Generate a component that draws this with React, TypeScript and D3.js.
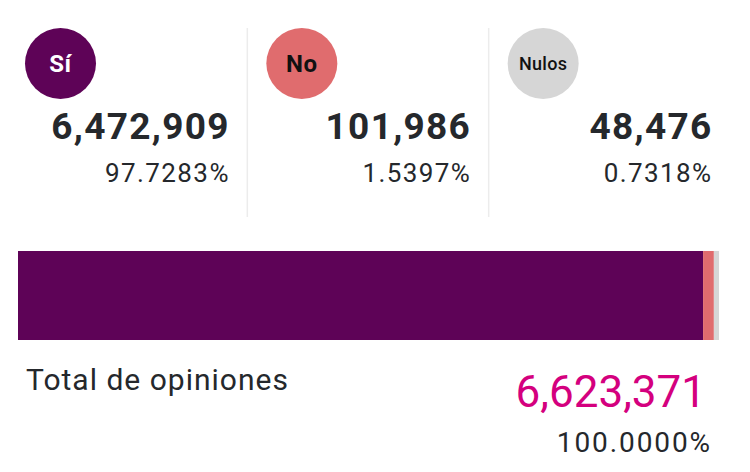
import React from "react";
import * as d3 from "d3";

const categories = ["Sí", "No", "Nulos"];
const votes = [6472909, 101986, 48476];
const percents = ["97.7283%", "1.5397%", "0.7318%"];
const colors = ["#5e0357", "#e06c6e", "#d6d6d6"];
const labelColors = ["#ffffff", "#111111", "#111111"];
const totalLabel = "Total de opiniones";
const totalValue = 6623371;
const totalPercent = "100.0000%";

const W = 750;
const H = 472;
const FONT = "Roboto, 'Noto Sans', sans-serif";
const TEXT = "#25282c";

export default function App() {
  const fmt = d3.format(",");
  const colX = d3.scaleBand<number>().domain([0, 1, 2]).range([6, 730]);
  const x = d3.scaleLinear().domain([0, totalValue]).range([18, 719]);
  const stack = d3.stack<Record<string, number>>().keys(categories)([
    Object.fromEntries(categories.map((c, i) => [c, votes[i]])),
  ]);

  return (
    <div style={{ position: "absolute", left: 0, top: 0 }}>
      <svg width={W} height={H} style={{ display: "block", fontFamily: FONT }}>
        <rect width={W} height={H} fill="#ffffff" />
        {categories.map((c, i) => {
          const x0 = colX(i)!;
          const bw = colX.bandwidth();
          const right = x0 + bw - 17.5;
          return (
            <g key={c}>
              {i > 0 && (
                <line x1={x0} x2={x0} y1={28} y2={217} stroke="#ececec" strokeWidth={1.5} />
              )}
              <circle cx={x0 + 54.5} cy={63.5} r={35.5} fill={colors[i]} />
              <text
                x={x0 + 54.5}
                y={63.5}
                dy="0.36em"
                textAnchor="middle"
                fill={labelColors[i]}
                fontSize={i === 2 ? 18 : 24}
                fontWeight={i === 2 ? 500 : 700}
                letterSpacing={i === 2 ? 0.3 : 0.5}
              >
                {c}
              </text>
              <text
                x={right}
                y={139}
                textAnchor="end"
                fill={TEXT}
                fontSize={37}
                fontWeight={700}
                letterSpacing={1.3}
              >
                {fmt(votes[i])}
              </text>
              <text
                x={right}
                y={182}
                textAnchor="end"
                fill={TEXT}
                fontSize={26}
                fontWeight={400}
                letterSpacing={1.4}
              >
                {percents[i]}
              </text>
            </g>
          );
        })}
        {stack.map((s, i) => (
          <rect
            key={s.key}
            x={x(s[0][0])}
            y={251}
            width={x(s[0][1]) - x(s[0][0])}
            height={89}
            fill={colors[i]}
          />
        ))}
        <text x={26} y={390} fill={TEXT} fontSize={30} letterSpacing={1}>
          {totalLabel}
        </text>
        <text x={706} y={406.5} textAnchor="end" fill="#d4007e" fontSize={44} letterSpacing={0}>
          {fmt(totalValue)}
        </text>
        <text x={712} y={451.5} textAnchor="end" fill={TEXT} fontSize={28} letterSpacing={1.9}>
          {totalPercent}
        </text>
      </svg>
    </div>
  );
}
